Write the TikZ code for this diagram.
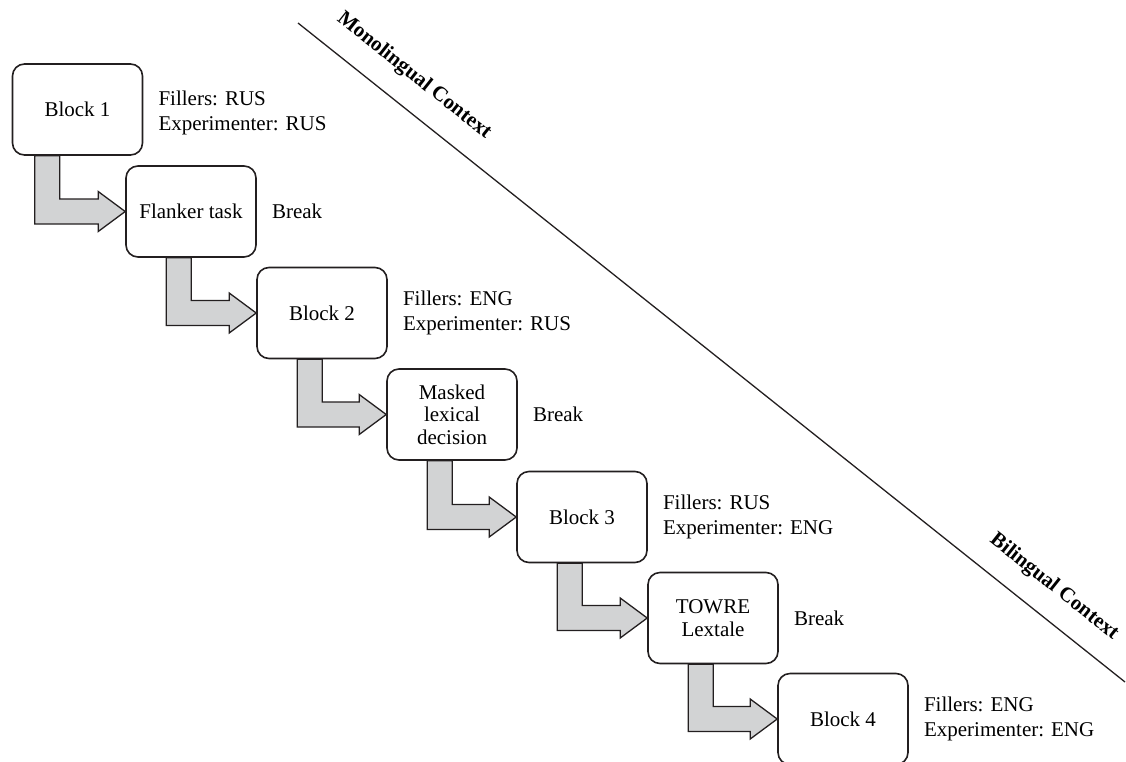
\documentclass[tikz,border=0pt]{standalone}
\usepackage{fontspec}
\setmainfont{Liberation Serif}
\usetikzlibrary{calc}
\definecolor{linecol}{RGB}{35,31,32}
\definecolor{arrowgray}{RGB}{210,211,212}
\newcommand{\bentarrow}[3]{%
  \filldraw[bent] let \p1=(#1.south west), \p2=(#2.west) in
    (\x1+#3,\y1) -- (\x1+#3,\y2-12.5pt) -- (\x2-27pt,\y2-12.5pt) -- (\x2-27pt,\y2-20pt)
    -- (\p2) -- (\x2-27pt,\y2+20pt) -- (\x2-27pt,\y2+12.5pt) -- (\x1+#3+25pt,\y2+12.5pt)
    -- (\x1+#3+25pt,\y1) -- cycle;}
\begin{document}
\begin{tikzpicture}[x=1pt,y=-1pt,
  box/.style={draw=linecol, line width=1.6pt, rounded corners=12pt, fill=white,
    minimum width=130pt, minimum height=91pt, inner sep=0pt, align=center,
    font=\fontsize{21}{22.5}\selectfont},
  note/.style={anchor=west, align=left, inner sep=0pt, font=\fontsize{21}{25}\selectfont},
  bent/.style={draw=linecol, fill=arrowgray, line width=1.3pt, line join=miter},
  ctx/.style={inner sep=0pt, font=\fontsize{21}{25}\selectfont\bfseries},
  divider/.style={draw=linecol, line width=1.3pt}]
\useasboundingbox (0,0) rectangle (1126,761);
% boxes
\node[box] (b1) at (77.5,109.5) {Block 1};
\node[box] (fl) at (191,211.5) {Flanker task};
\node[box] (b2) at (322,313) {Block 2};
\node[box] (ml) at (452,414.5) {Masked\\lexical\\decision};
\node[box] (b3) at (582,517) {Block 3};
\node[box] (tw) at (713,618) {TOWRE\\Lextale};
\node[box] (b4) at (843,719) {Block 4};
% arrows
\bentarrow{b1}{fl}{23pt}
\bentarrow{fl}{b2}{41pt}
\bentarrow{b2}{ml}{41pt}
\bentarrow{ml}{b3}{41pt}
\bentarrow{b3}{tw}{41pt}
\bentarrow{tw}{b4}{41pt}
% side notes
\node[note] (n1) at ([xshift=15pt,yshift=-3pt]b1.east) {Fillers: RUS\\Experimenter: RUS};
\node[note] (n2) at ([xshift=15pt]fl.east) {Break};
\node[note] (n3) at ([xshift=15pt]b2.east) {Fillers: ENG\\Experimenter: RUS};
\node[note] (n4) at ([xshift=15pt]ml.east) {Break};
\node[note] (n5) at ([xshift=15pt]b3.east) {Fillers: RUS\\Experimenter: ENG};
\node[note] (n6) at ([xshift=15pt]tw.east) {Break};
\node[note] (n7) at ([xshift=15pt]b4.east) {Fillers: ENG\\Experimenter: ENG};
% divider
\coordinate (d1) at (298,23);
\coordinate (d2) at (1125,682);
\draw[divider] (d1) -- (d2);
\node[ctx, rotate=-38.5] (mono) at (414,76) {Monolingual Context};
\node[ctx, rotate=-38.5] (bil) at (1054,587) {Bilingual Context};
\end{tikzpicture}
\end{document}
